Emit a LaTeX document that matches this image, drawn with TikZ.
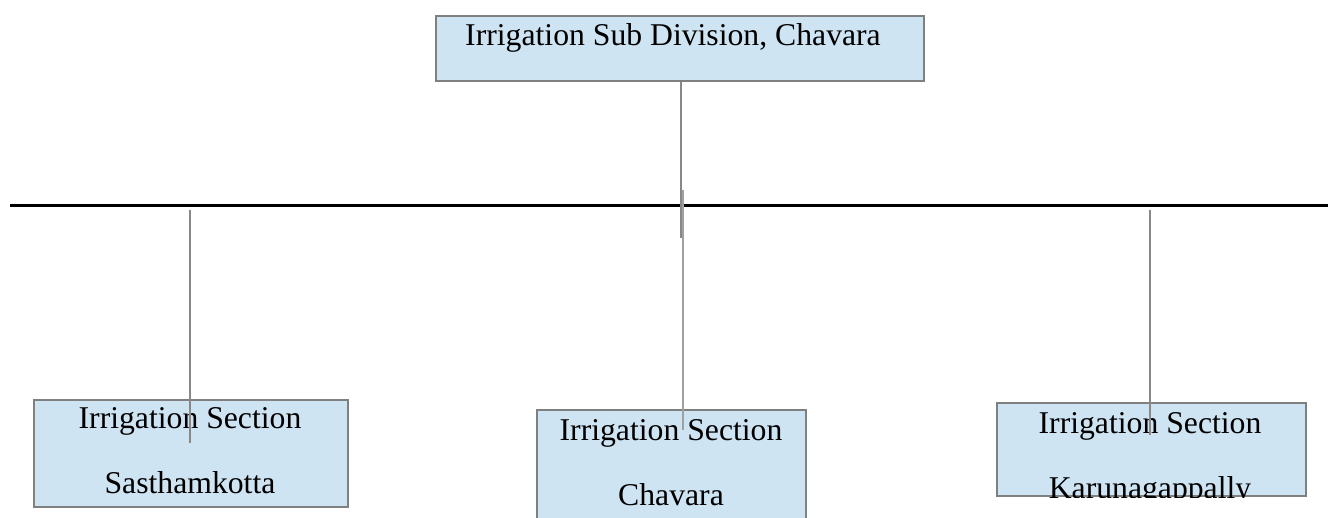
\documentclass[tikz,border=0pt]{standalone}
\usepackage{fontspec}
\setmainfont{Liberation Serif}
\definecolor{boxfill}{RGB}{207,228,243}
\definecolor{boxdraw}{RGB}{128,128,128}
\definecolor{conn}{RGB}{136,136,136}
\begin{document}
\begin{tikzpicture}[x=1pt,y=-1pt,
  box/.style={draw=boxdraw,line width=2.2pt,fill=boxfill,rectangle,inner sep=0pt,anchor=north west},
  txt/.style={inner sep=0pt,anchor=base,font=\fontsize{31.7}{38}\selectfont},
  conline/.style={draw=conn,line width=1.8pt},
  mainline/.style={draw=black,line width=3pt}]
\useasboundingbox (0,0) rectangle (1328,517);
% boxes
\node[box,minimum width=488pt,minimum height=65pt] (top) at (435,15) {};
\node[box,minimum width=314pt,minimum height=107pt] (left) at (33,399) {};
\node[box,minimum width=269pt,minimum height=130pt] (mid) at (536,409) {};
\node[box,minimum width=309pt,minimum height=93pt] (right) at (996,402) {};
% texts
\node[txt] (toptxt) at (673,45) {Irrigation Sub Division, Chavara};
\node[txt] (lt1) at (190,428) {Irrigation Section};
\node[txt] (lt2) at (190,493) {Sasthamkotta};
\node[txt] (mt1) at (671,440) {Irrigation Section};
\node[txt] (mt2) at (671,505) {Chavara};
\node[txt] (rt1) at (1150,433) {Irrigation Section};
\begin{scope}
\clip (right.south west) rectangle (right.north east);
\node[txt] (rt2) at (1150,498) {Karunagappally};
\end{scope}
% horizontal line
\coordinate (hl) at (10,205);
\coordinate (hr) at (1328,205);
\draw[mainline] (hl) -- (hr);
% connectors
\coordinate (c0) at (681,238);
\draw[conline,line width=2.8pt] (top.south -| c0) -- (c0);
\coordinate (c1a) at (683,190);
\coordinate (c1b) at (683,430);
\draw[conline,draw={rgb,255:red,160;green,160;blue,160}] (c1a) -- (c1b);
\coordinate (l1a) at (190,210);
\coordinate (l1b) at (190,443);
\draw[conline] (l1a) -- (l1b);
\coordinate (r1a) at (1150,210);
\coordinate (r1b) at (1150,435);
\draw[conline] (r1a) -- (r1b);
\end{tikzpicture}
\end{document}
